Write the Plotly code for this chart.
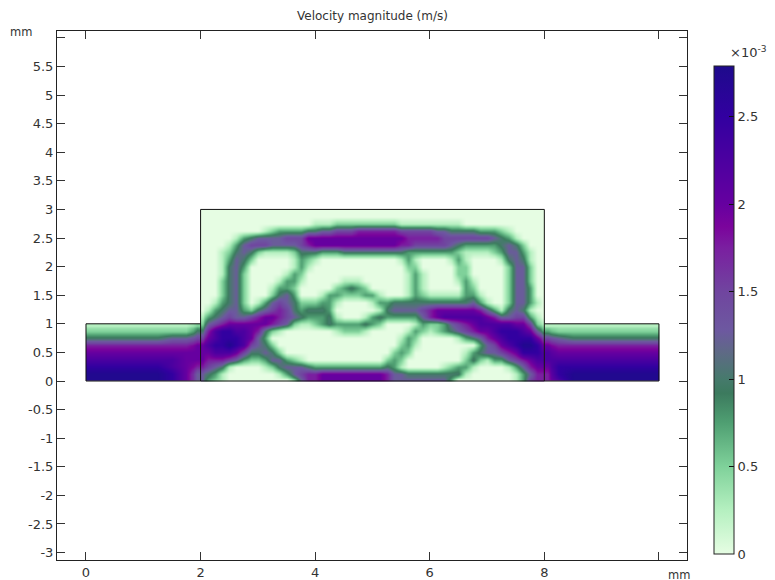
import plotly.graph_objects as go

# Velocity magnitude, one character per sample,
# hexadecimal digit in units of 0.25e-3 m/s.  Rows run from the top down.
LEVEL_UNIT = 0.25

center_x_start, center_x_stop = 2.0, 8.0
center_y_top = 3.0
center_rows = [
    "0000000000 0000000000 0000000000 0000000000 000000000",
    "0000000000 0000000000 0000000000 0000000000 000000000",
    "0000000000 0000001112 2222222211 1111111000 000000000",
    "0000000001 2333344556 6677777766 6665544443 332100000",
    "0000013455 5566688888 8888888887 7777666666 654310000",
    "0000135666 5555678888 8888888877 6666654333 334542000",
    "0001245421 1112444333 4444444443 3333332111 123553100",
    "0001354200 0001321000 0000000013 1000013100 001454100",
    "0001453000 0001310000 0000000002 2000002200 000255200",
    "0001452000 0013200000 0000000001 3100002200 000255200",
    "0002452000 0133100000 1110000001 3100001310 000255200",
    "0002452000 1332000002 3432000001 3100000320 000255300",
    "0002452000 2453000133 2223310001 3211111331 000255300",
    "0013452013 5654222331 0000133444 4444444453 100255310",
    "0134553245 6764344430 0000014555 5678888887 531454100",
    "1345655678 8765433341 0001343333 3578999999 875566310",
    "2567888888 7652112343 3334320000 1322356789 999988621",
    "479aa99874 2100000001 2221000001 3212345678 89aaa9853",
    "689aaa9853 0000000000 0000000013 2000001345 789aaaa86",
    "89aaba9654 2000000000 0000000023 1000000003 5689abba8",
    "8899986445 4200000000 0000000232 0000000134 55678aaa9",
    "8777653223 5532100000 0000002320 0000000242 133567899",
    "7654100001 2455543333 3333334310 0000123310 000135788",
    "5431000000 0135677888 8888887554 4444444100 000013577",
    "5321000000 0002577888 8888887555 5555530000 000013677",
]

left_x_start, left_x_stop = 0.0, 2.0
left_rows = [
    "111111112",
    "222222224",
    "444444556",
    "777777778",
    "888888888",
    "999999988",
    "aaaaaa987",
    "bbbbbba85",
    "bbbbbba85",
]

right_x_start, right_x_stop = 8.0, 10.0
right_rows = [
    "111111111",
    "322222222",
    "654444444",
    "877777777",
    "988888888",
    "999999999",
    "8aaaaaaaa",
    "7abbbbbbb",
    "79bbbbbbb",
]
tier_y_top = 1.0

# Domain outlines
outline_center_x = [2, 8, 8, 2, 2]
outline_center_y = [0, 0, 3, 3, 0]
outline_left_x = [2, 0, 0, 2]
outline_left_y = [1, 1, 0, 0]
outline_right_x = [8, 10, 10, 8]
outline_right_y = [1, 1, 0, 0]

y_ticks = [-3, -2.5, -2, -1.5, -1, -0.5, 0, 0.5, 1, 1.5, 2, 2.5, 3, 3.5, 4, 4.5, 5, 5.5, 6]
y_labels = ["-3", "-2.5", "-2", "-1.5", "-1", "-0.5", "0", "0.5", "1", "1.5",
            "2", "2.5", "3", "3.5", "4", "4.5", "5", "5.5", ""]
x_ticks = [0, 2, 4, 6, 8, 10]
x_labels = ["0", "2", "4", "6", "8", ""]
cbar_ticks = [0, 0.5, 1, 1.5, 2, 2.5]
cbar_labels = ["0", "0.5", "1", "1.5", "2", "2.5"]

z_max = 2.79
color_stops = [
    (0.00, "#e6fde3"), (0.25, "#b5f0c0"), (0.50, "#7fd19a"), (0.75, "#4f9f72"), (0.92, "#3c7a5e"),
    (1.00, "#467a6c"), (1.15, "#5e6a85"), (1.28, "#6d58a0"), (1.50, "#70459f"),
    (1.75, "#7a1fa0"), (1.87, "#7b049c"), (2.00, "#6600a0"), (2.50, "#3200a0"), (2.79, "#1e0a8c"),
]

FONT = "DejaVu Sans"
TEXT = "#333333"


def parse(rows):
    return [[int(ch, 16) * LEVEL_UNIT for ch in r.replace(" ", "")] for r in rows]


def edges(start, stop, n):
    step = (stop - start) / (n - 1)
    return [start] + [start + (i + 0.5) * step for i in range(n - 1)] + [stop]


def heat(rows, x0, x1, y_top):
    z = parse(rows)
    return go.Heatmap(
        z=z,
        x=edges(x0, x1, len(z[0])),
        y=edges(y_top, 0.0, len(z)),
        coloraxis="coloraxis",
        zsmooth="best",
        hoverinfo="skip",
    )


fig = go.Figure()
fig.add_trace(heat(left_rows, left_x_start, left_x_stop, tier_y_top))
fig.add_trace(heat(center_rows, center_x_start, center_x_stop, center_y_top))
fig.add_trace(heat(right_rows, right_x_start, right_x_stop, tier_y_top))
for xs, ys in [(outline_left_x, outline_left_y), (outline_right_x, outline_right_y),
               (outline_center_x, outline_center_y)]:
    fig.add_trace(go.Scatter(x=xs, y=ys, mode="lines", line=dict(color="#111111", width=1),
                             hoverinfo="skip", showlegend=False))

W, H = 775, 580
L, R, T, B = 57, 687, 31, 560
axis = dict(showgrid=False, zeroline=False, showline=True, linecolor="#222222", linewidth=1,
            mirror="allticks", ticks="inside", ticklen=8, tickcolor="#333333", tickwidth=1,
            tickmode="array", tickfont=dict(family=FONT, size=13, color=TEXT), automargin=False)

fig.update_layout(
    width=W, height=H, paper_bgcolor="white", plot_bgcolor="white",
    margin=dict(l=L, r=W - R, t=T, b=H - B, pad=0, autoexpand=False),
    showlegend=False,
    font=dict(family=FONT, size=13, color=TEXT),
    xaxis=dict(axis, range=[-0.506, 10.49], tickvals=x_ticks, ticktext=x_labels),
    yaxis=dict(axis, range=[-3.13, 6.12], tickvals=y_ticks, ticktext=y_labels),
    coloraxis=dict(
        cmin=0, cmax=z_max,
        colorscale=[[v / z_max, c] for v, c in color_stops],
        colorbar=dict(
            thickness=20, thicknessmode="pixels",
            lenmode="pixels", len=554 - 66,
            x=(714 - L) / (R - L), xanchor="left", xpad=0,
            y=(B - 554) / (B - T), yanchor="bottom", ypad=0,
            outlinecolor="#222222", outlinewidth=1,
            ticks="inside", ticklen=5, tickcolor="#111111", tickwidth=1,
            tickmode="array", tickvals=cbar_ticks, ticktext=cbar_labels,
            tickfont=dict(family=FONT, size=13, color=TEXT),
        ),
    ),
)


def px_ann(text, px, py, size=12, anchor="center"):
    fig.add_annotation(text=text, x=(px - L) / (R - L), y=(B - py) / (B - T), xref="paper", yref="paper",
                       showarrow=False, xanchor=anchor, yanchor="middle",
                       font=dict(family=FONT, size=size, color=TEXT))


px_ann("Velocity magnitude (m/s)", 372, 16, 12)
px_ann("mm", 21, 32, 11.5)
px_ann("mm", 679, 575, 11.5)
px_ann("\u00d710<sup>-3</sup>", 748, 52, 13)

fig.write_html("out.html", post_script="document.body.style.margin='0';", config=dict(displayModeBar=False))
